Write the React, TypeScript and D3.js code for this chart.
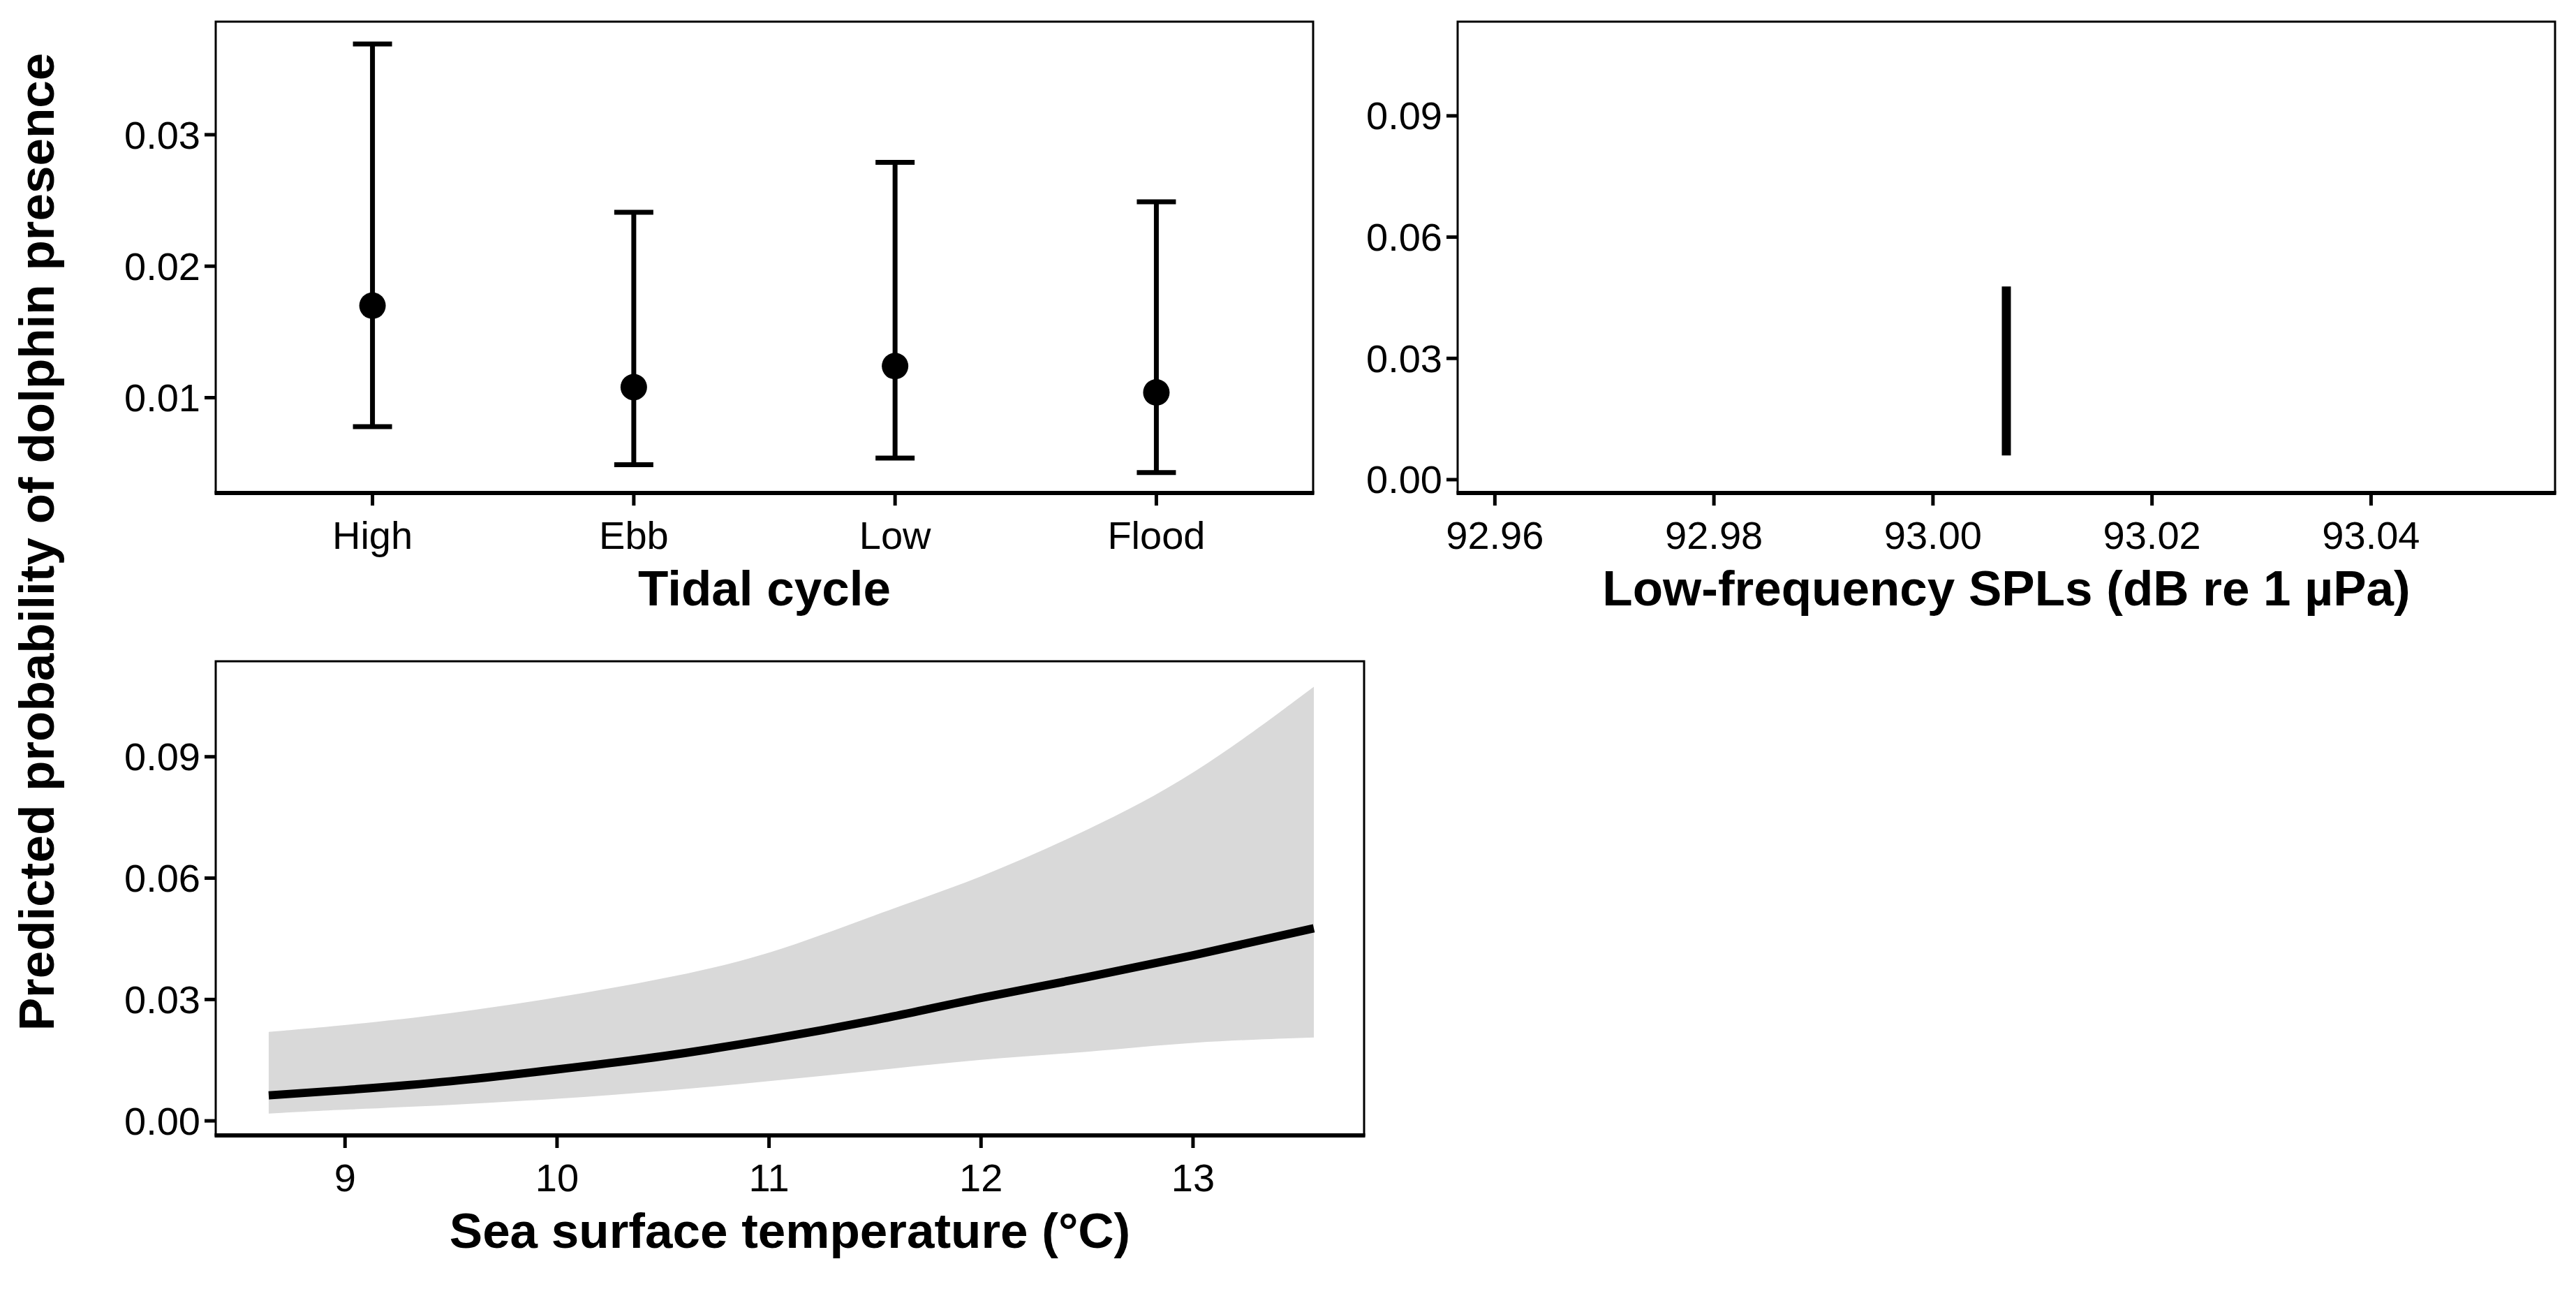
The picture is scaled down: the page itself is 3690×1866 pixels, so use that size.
import React from "react";
import * as d3 from "d3";

const tideCats = ["High", "Ebb", "Low", "Flood"];
const tideMean = [0.017, 0.0108, 0.0124, 0.0104];
const tideLow = [0.0078, 0.0049, 0.0054, 0.0043];
const tideHigh = [0.0369, 0.0241, 0.0279, 0.0249];
const tideTicks = [0.01, 0.02, 0.03];

const splX = 93.0067;
const splLow = 0.006;
const splHigh = 0.0478;
const splXTicks = [92.96, 92.98, 93.0, 93.02, 93.04];
const probTicks = [0.0, 0.03, 0.06, 0.09];

const sstX = [8.64, 9, 9.5, 10, 10.5, 11, 11.5, 12, 12.5, 13, 13.57];
const sstMean = [0.0063, 0.0076, 0.0098, 0.0127, 0.016, 0.0201, 0.0249, 0.0304, 0.0355, 0.0409, 0.0476];
const sstUpper = [0.022, 0.0236, 0.0265, 0.0304, 0.035, 0.0409, 0.051, 0.06, 0.0717, 0.085, 0.1073];
const sstLower = [0.0018, 0.0028, 0.0039, 0.0054, 0.0073, 0.0098, 0.0124, 0.0153, 0.0169, 0.0196, 0.0206];
const sstTicks = [9, 10, 11, 12, 13];

const FONT = "Liberation Sans, Arial, sans-serif";
const TICK = 56;
const TITLE = 71;

function Frame({ x0, x1, y0, y1 }: any) {
  return (
    <g>
      <rect x={x0} y={y0} width={x1 - x0} height={y1 - y0} fill="none" stroke="#000" strokeWidth={3} />
      <line x1={x0 - 1.5} x2={x1 + 1.5} y1={y1} y2={y1} stroke="#000" strokeWidth={6} />
    </g>
  );
}

function YAxis({ y, ticks, x0, fmt }: any) {
  return (
    <g>
      {ticks.map((t: number) => (
        <g key={t}>
          <line x1={x0 - 16} x2={x0} y1={y(t)} y2={y(t)} stroke="#000" strokeWidth={5} />
          <text x={x0 - 22} y={y(t)} dy="0.35em" textAnchor="end" fontSize={TICK} fontFamily={FONT}>
            {fmt(t)}
          </text>
        </g>
      ))}
    </g>
  );
}

function XAxis({ x, ticks, y1, fmt, labelY }: any) {
  return (
    <g>
      {ticks.map((t: any) => (
        <g key={String(t)}>
          <line x1={x(t)} x2={x(t)} y1={y1} y2={y1 + 18} stroke="#000" strokeWidth={5} />
          <text x={x(t)} y={labelY} dy="0.35em" textAnchor="middle" fontSize={TICK} fontFamily={FONT}>
            {fmt(t)}
          </text>
        </g>
      ))}
    </g>
  );
}

export default function App() {
  const p1 = { x0: 309, x1: 1881, y0: 31, y1: 706 };
  const band = (p1.x1 - p1.x0) / (tideCats.length - 1 + 1.2);
  const x1s = (c: string) => p1.x0 + band * (0.6 + tideCats.indexOf(c));
  const y1s = d3.scaleLinear().domain([0.00275, 0.0386]).range([p1.y1, p1.y0]);

  const p2 = { x0: 2088, x1: 3660, y0: 31, y1: 706 };
  const x2s = d3.scaleLinear().domain([92.9566, 93.0568]).range([p2.x0, p2.x1]);
  const y2s = d3.scaleLinear().domain([-0.0033, 0.1133]).range([p2.y1, p2.y0]);

  const p3 = { x0: 309, x1: 1954, y0: 947, y1: 1626 };
  const x3s = d3.scaleLinear().domain([8.39, 13.807]).range([p3.x0, p3.x1]);
  const y3s = d3.scaleLinear().domain([-0.0036, 0.1136]).range([p3.y1, p3.y0]);
  const idx = sstX.map((_, i) => i);
  const area = d3
    .area<number>()
    .x((i) => x3s(sstX[i]))
    .y0((i) => y3s(sstLower[i]))
    .y1((i) => y3s(sstUpper[i]))
    .curve(d3.curveBasis);
  const line = d3
    .line<number>()
    .x((i) => x3s(sstX[i]))
    .y((i) => y3s(sstMean[i]))
    .curve(d3.curveMonotoneX);

  const f2 = d3.format(".2f");

  return (
    <svg width={3690} height={1866} style={{ display: "block", background: "#fff", position: "absolute", left: 0, top: 0 }}>
      <rect width={3690} height={1866} fill="#fff" />
      {tideCats.map((c, i) => (
        <g key={c}>
          <line x1={x1s(c)} x2={x1s(c)} y1={y1s(tideLow[i])} y2={y1s(tideHigh[i])} stroke="#000" strokeWidth={7} />
          <line x1={x1s(c) - 28} x2={x1s(c) + 28} y1={y1s(tideLow[i])} y2={y1s(tideLow[i])} stroke="#000" strokeWidth={7} />
          <line x1={x1s(c) - 28} x2={x1s(c) + 28} y1={y1s(tideHigh[i])} y2={y1s(tideHigh[i])} stroke="#000" strokeWidth={7} />
          <circle cx={x1s(c)} cy={y1s(tideMean[i])} r={19} fill="#000" />
        </g>
      ))}
      <Frame {...p1} />
      <YAxis y={y1s} ticks={tideTicks} x0={p1.x0} fmt={f2} />
      <XAxis x={x1s} ticks={tideCats} y1={p1.y1} fmt={(t: string) => t} labelY={766} />
      <text x={(p1.x0 + p1.x1) / 2} y={842} dy="0.35em" textAnchor="middle" fontSize={TITLE} fontWeight="bold" fontFamily={FONT}>
        Tidal cycle
      </text>

      <line x1={x2s(splX)} x2={x2s(splX)} y1={y2s(splLow)} y2={y2s(splHigh)} stroke="#000" strokeWidth={13} />
      <Frame {...p2} />
      <YAxis y={y2s} ticks={probTicks} x0={p2.x0} fmt={f2} />
      <XAxis x={x2s} ticks={splXTicks} y1={p2.y1} fmt={f2} labelY={766} />
      <text x={(p2.x0 + p2.x1) / 2} y={842} dy="0.35em" textAnchor="middle" fontSize={TITLE} fontWeight="bold" fontFamily={FONT}>
        Low-frequency SPLs (dB re 1 µPa)
      </text>

      <path d={area(idx) || ""} fill="#d9d9d9" />
      <path d={line(idx) || ""} fill="none" stroke="#000" strokeWidth={12} />
      <Frame {...p3} />
      <YAxis y={y3s} ticks={probTicks} x0={p3.x0} fmt={f2} />
      <XAxis x={x3s} ticks={sstTicks} y1={p3.y1} fmt={(t: number) => String(t)} labelY={1686} />
      <text x={(p3.x0 + p3.x1) / 2} y={1762} dy="0.35em" textAnchor="middle" fontSize={TITLE} fontWeight="bold" fontFamily={FONT}>
        Sea surface temperature (°C)
      </text>

      <text
        transform="translate(52,776) rotate(-90)"
        dy="0.35em"
        textAnchor="middle"
        fontSize={TITLE}
        fontWeight="bold"
        fontFamily={FONT}
      >
        Predicted probability of dolphin presence
      </text>
    </svg>
  );
}
